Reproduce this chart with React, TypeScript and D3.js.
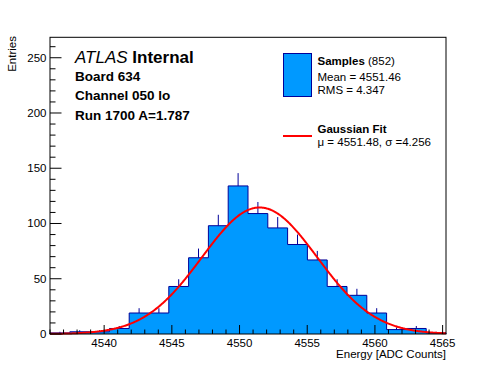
import React from "react";
import * as d3 from "d3";

const W = 496;
const H = 372;

// Histogram: 20 equal bins spanning the x range
const xMin = 4536;
const xMax = 4565.25;
const binCounts = [1, 2, 2, 5, 19, 19, 43, 69, 98, 134, 109, 96, 81, 67, 43, 35, 19, 4, 5, 1];

// Gaussian fit
const fitMean = 4551.48;
const fitSigma = 4.256;
const fitAmplitude = 114.5;

const yMax = 268.5;
const xMajorTicks = [4540, 4545, 4550, 4555, 4560, 4565];
const yMajorTicks = [0, 50, 100, 150, 200, 250];

const titleLines = ["Board 634", "Channel 050 lo", "Run 1700 A=1.787"];
const sampleStats = ["Mean = 4551.46", "RMS = 4.347"];
const fitLabel = "\u03bc = 4551.48, \u03c3 =4.256";

const FILL = "#0099ff";
const EDGE = "#000099";
const FONT = "'Liberation Sans', Arial, Helvetica, sans-serif";

export default function App() {
  const left = 50, right = 446, top = 37.3, bottom = 334;
  const x = d3.scaleLinear().domain([xMin, xMax]).range([left, right]);
  const y = d3.scaleLinear().domain([0, yMax]).range([bottom, top]);

  const bw = (xMax - xMin) / binCounts.length;
  const pts: [number, number][] = binCounts.map((c, i) => [xMin + i * bw, c]);
  pts.push([xMax, binCounts[binCounts.length - 1]]);

  const area = d3
    .area<[number, number]>()
    .x((d) => x(d[0]))
    .y0(y(0))
    .y1((d) => y(d[1]))
    .curve(d3.curveStepAfter);
  const outlinePts: [number, number][] = [[xMin, 0], ...pts, [xMax, 0]];
  const outline = d3
    .line<[number, number]>()
    .x((d) => x(d[0]))
    .y((d) => y(d[1]))
    .curve(d3.curveStepAfter);

  const gauss = (v: number) =>
    fitAmplitude * Math.exp(-0.5 * ((v - fitMean) / fitSigma) ** 2);
  const fitPts: [number, number][] = d3
    .range(xMin, xMax + 0.001, 0.05)
    .map((v) => [v, gauss(v)]);
  const fitLine = d3
    .line<[number, number]>()
    .x((d) => x(d[0]))
    .y((d) => y(d[1]));

  const xMinor = d3.range(Math.ceil(xMin), Math.floor(xMax) + 1, 1);
  const yMinor = d3.range(0, yMax, 10);

  return (
    <svg
      width={W}
      height={H}
      style={{ position: "fixed", left: 0, top: 0, background: "#fff" }}
      fontFamily={FONT}
    >
      <rect x={0} y={0} width={W} height={H} fill="#fff" />
      {/* histogram fill */}
      <path d={area(pts) || ""} fill={FILL} stroke="none" />
      {/* error bars (upper half visible) */}
      {binCounts.map((c, i) => (
        <line
          key={"e" + i}
          x1={x(xMin + (i + 0.5) * bw)}
          x2={x(xMin + (i + 0.5) * bw)}
          y1={y(c)}
          y2={y(c + Math.sqrt(c))}
          stroke={EDGE}
          strokeWidth={1}
        />
      ))}
      <path d={outline(outlinePts) || ""} fill="none" stroke={EDGE} strokeWidth={1} />
      {/* fit */}
      <path d={fitLine(fitPts) || ""} fill="none" stroke="#ff0000" strokeWidth={2} />

      {/* frame */}
      <rect x={left} y={top} width={right - left} height={bottom - top} fill="none" stroke="#000" strokeWidth={1} />

      {/* x ticks */}
      {xMinor.map((t) => (
        <line key={"xm" + t} x1={x(t)} x2={x(t)} y1={bottom} y2={bottom - (xMajorTicks.includes(t) ? 9 : 4.5)} stroke="#000" />
      ))}
      {xMajorTicks.map((t) => (
        <text key={"xl" + t} x={x(t)} y={346.5} fontSize={11.5} textAnchor="middle">
          {t}
        </text>
      ))}
      {/* y ticks */}
      {yMinor.map((t) => (
        <line key={"ym" + t} x1={left} x2={left + (t % 50 === 0 ? 11.5 : 5.5)} y1={y(t)} y2={y(t)} stroke="#000" />
      ))}
      {yMajorTicks.map((t) => (
        <text key={"yl" + t} x={46.5} y={y(t) + 4} fontSize={11.5} textAnchor="end">
          {t}
        </text>
      ))}

      {/* axis titles */}
      <text x={446} y={357.5} fontSize={11.5} textAnchor="end">
        Energy [ADC Counts]
      </text>
      <text transform="translate(16,36) rotate(-90)" fontSize={11.5} textAnchor="end">
        Entries
      </text>

      {/* ATLAS label */}
      <text x={75} y={62.5} fontSize={17}>
        <tspan fontStyle="italic">ATLAS</tspan>
        <tspan fontWeight="bold"> Internal</tspan>
      </text>
      {titleLines.map((s, i) => (
        <text key={s} x={75} y={80.7 + i * 19.6} fontSize={13.5} fontWeight="bold">
          {s}
        </text>
      ))}

      {/* legend */}
      <rect x={283.5} y={53.5} width={28} height={43} fill={FILL} stroke={EDGE} strokeWidth={1} />
      <text x={317.5} y={65} fontSize={11.5}>
        <tspan fontWeight="bold">Samples</tspan>
        <tspan> (852)</tspan>
      </text>
      {sampleStats.map((s, i) => (
        <text key={s} x={317.5} y={80.7 + i * 12.8} fontSize={11.5}>
          {s}
        </text>
      ))}
      <line x1={283} x2={312} y1={136} y2={136} stroke="#ff0000" strokeWidth={2} />
      <text x={317.5} y={132.7} fontSize={11.5} fontWeight="bold">
        Gaussian Fit
      </text>
      <text x={317.5} y={146} fontSize={11.5}>
        {fitLabel}
      </text>
    </svg>
  );
}
